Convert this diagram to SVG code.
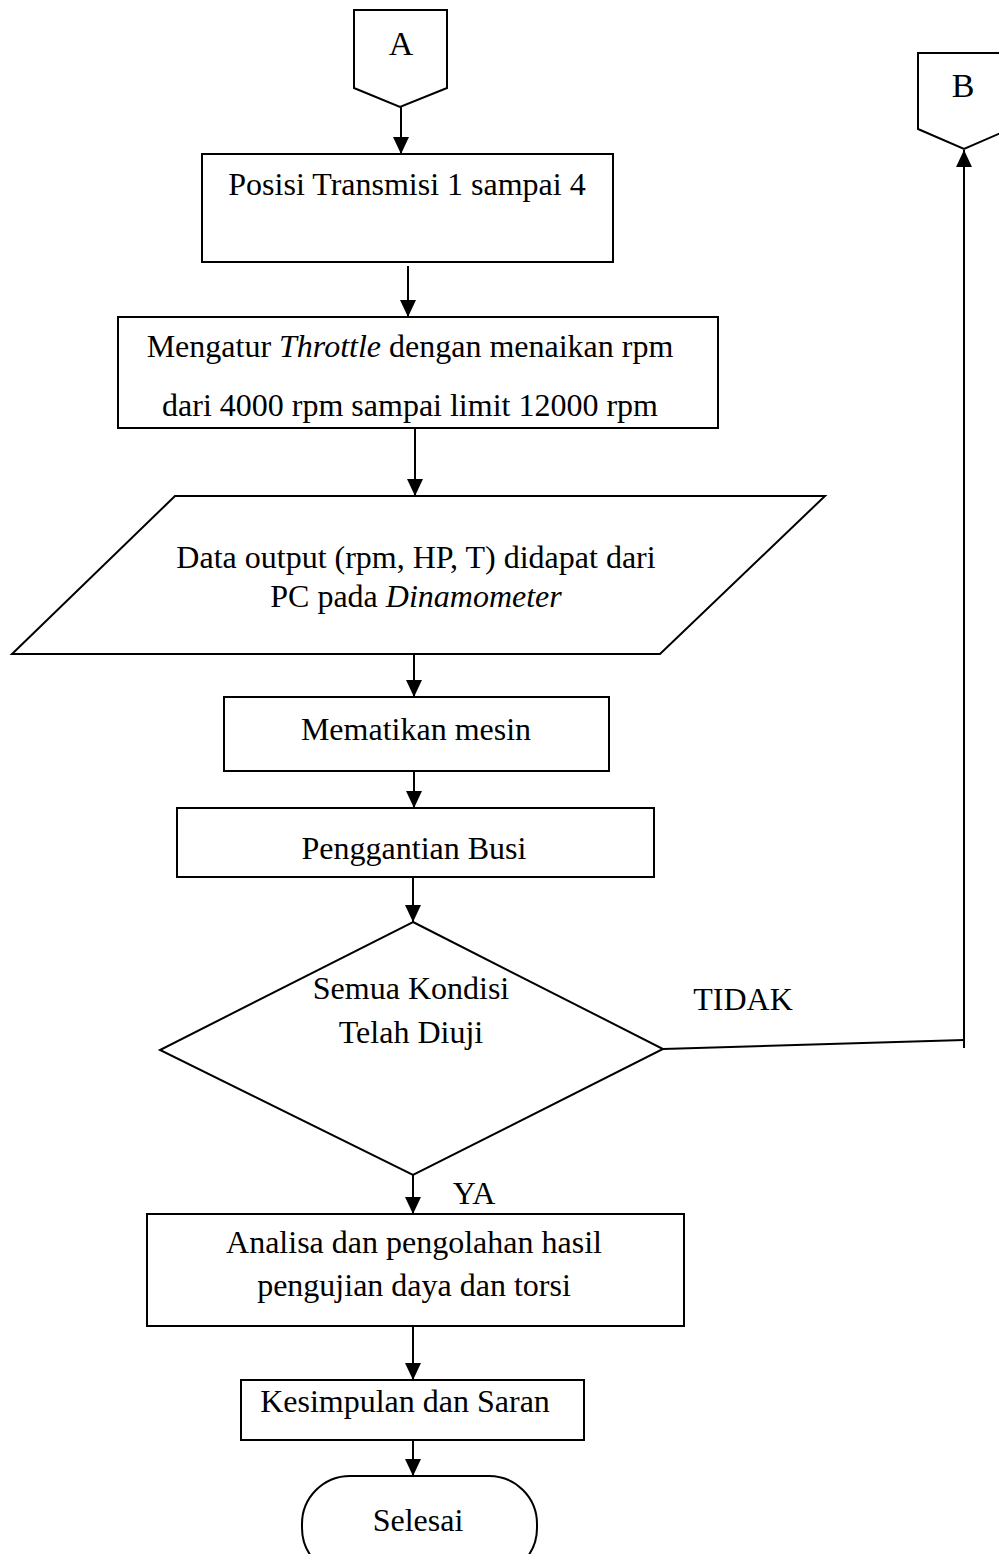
<svg xmlns="http://www.w3.org/2000/svg" width="999" height="1554" viewBox="0 0 999 1554">
<style>
.s{fill:#fff;stroke:#000;stroke-width:2}
.t{font-family:"Liberation Serif","Times New Roman",serif;font-size:32px;fill:#000;text-anchor:middle}
.big{font-size:34px}
.c{fill:none;stroke:#000;stroke-width:2}
</style>
<defs>
<marker id="ahv" markerUnits="userSpaceOnUse" markerWidth="18" markerHeight="16" refX="17" refY="8" orient="auto" viewBox="0 0 18 16">
<path d="M0,0 L17,8 L0,16 Z" fill="#000"/>
</marker>
</defs>
<rect width="999" height="1554" fill="#fff"/>
<g id="connectors">
<line class="c" x1="401" y1="107" x2="401" y2="154" marker-end="url(#ahv)"/>
<line class="c" x1="408" y1="266" x2="408" y2="317" marker-end="url(#ahv)"/>
<line class="c" x1="415" y1="428" x2="415" y2="496" marker-end="url(#ahv)"/>
<line class="c" x1="414" y1="654" x2="414" y2="697" marker-end="url(#ahv)"/>
<line class="c" x1="414" y1="771" x2="414" y2="808" marker-end="url(#ahv)"/>
<line class="c" x1="413" y1="877" x2="413" y2="922" marker-end="url(#ahv)"/>
<line class="c" x1="413" y1="1175" x2="413" y2="1214" marker-end="url(#ahv)"/>
<line class="c" x1="413" y1="1326" x2="413" y2="1380" marker-end="url(#ahv)"/>
<line class="c" x1="413" y1="1432" x2="413" y2="1476" marker-end="url(#ahv)"/>
<polyline class="c" points="663,1049 964,1040"/>
<line class="c" x1="964" y1="1048" x2="964" y2="150" marker-end="url(#ahv)"/>
<text class="t" x="743" y="1010">TIDAK</text>
<text class="t" x="474" y="1204">YA</text>
</g>
<g id="nodeA">
<polygon class="s" points="354,10 447,10 447,88 400,107 354,88"/>
<text class="t big" x="401" y="55">A</text>
</g>
<g id="nodeB">
<polygon class="s" points="918,53 1010,53 1010,129 964,149 918,129"/>
<text class="t big" x="963" y="97">B</text>
</g>
<g id="posisi">
<rect class="s" x="202" y="154" width="411" height="108"/>
<text class="t" x="407" y="195">Posisi Transmisi 1 sampai 4</text>
</g>
<g id="throttle">
<rect class="s" x="118" y="317" width="600" height="111"/>
<text class="t" x="410" y="357">Mengatur <tspan font-style="italic">Throttle</tspan> dengan menaikan rpm</text>
<text class="t" x="410" y="416">dari 4000 rpm sampai limit 12000 rpm</text>
</g>
<g id="data">
<polygon class="s" points="175,496 825,496 660,654 12,654"/>
<text class="t" x="416" y="568">Data output (rpm, HP, T) didapat dari</text>
<text class="t" x="416" y="607">PC pada <tspan font-style="italic">Dinamometer</tspan></text>
</g>
<g id="mematikan">
<rect class="s" x="224" y="697" width="385" height="74"/>
<text class="t" x="416" y="740">Mematikan mesin</text>
</g>
<g id="busi">
<rect class="s" x="177" y="808" width="477" height="69"/>
<text class="t" x="414" y="859">Penggantian Busi</text>
</g>
<g id="kondisi">
<polygon class="s" points="413,922 663,1049 413,1175 160,1050"/>
<text class="t" x="411" y="999">Semua Kondisi</text>
<text class="t" x="411" y="1043">Telah Diuji</text>
</g>
<g id="analisa">
<rect class="s" x="147" y="1214" width="537" height="112"/>
<text class="t" x="414" y="1253">Analisa dan pengolahan hasil</text>
<text class="t" x="414" y="1296">pengujian daya dan torsi</text>
</g>
<g id="kesimpulan">
<rect class="s" x="241" y="1380" width="343" height="60"/>
<text class="t" x="405" y="1412">Kesimpulan dan Saran</text>
</g>
<g id="selesai">
<rect class="s" x="302" y="1476" width="235" height="100" rx="48" ry="48"/>
<text class="t" x="418" y="1531">Selesai</text>
</g>
</svg>
